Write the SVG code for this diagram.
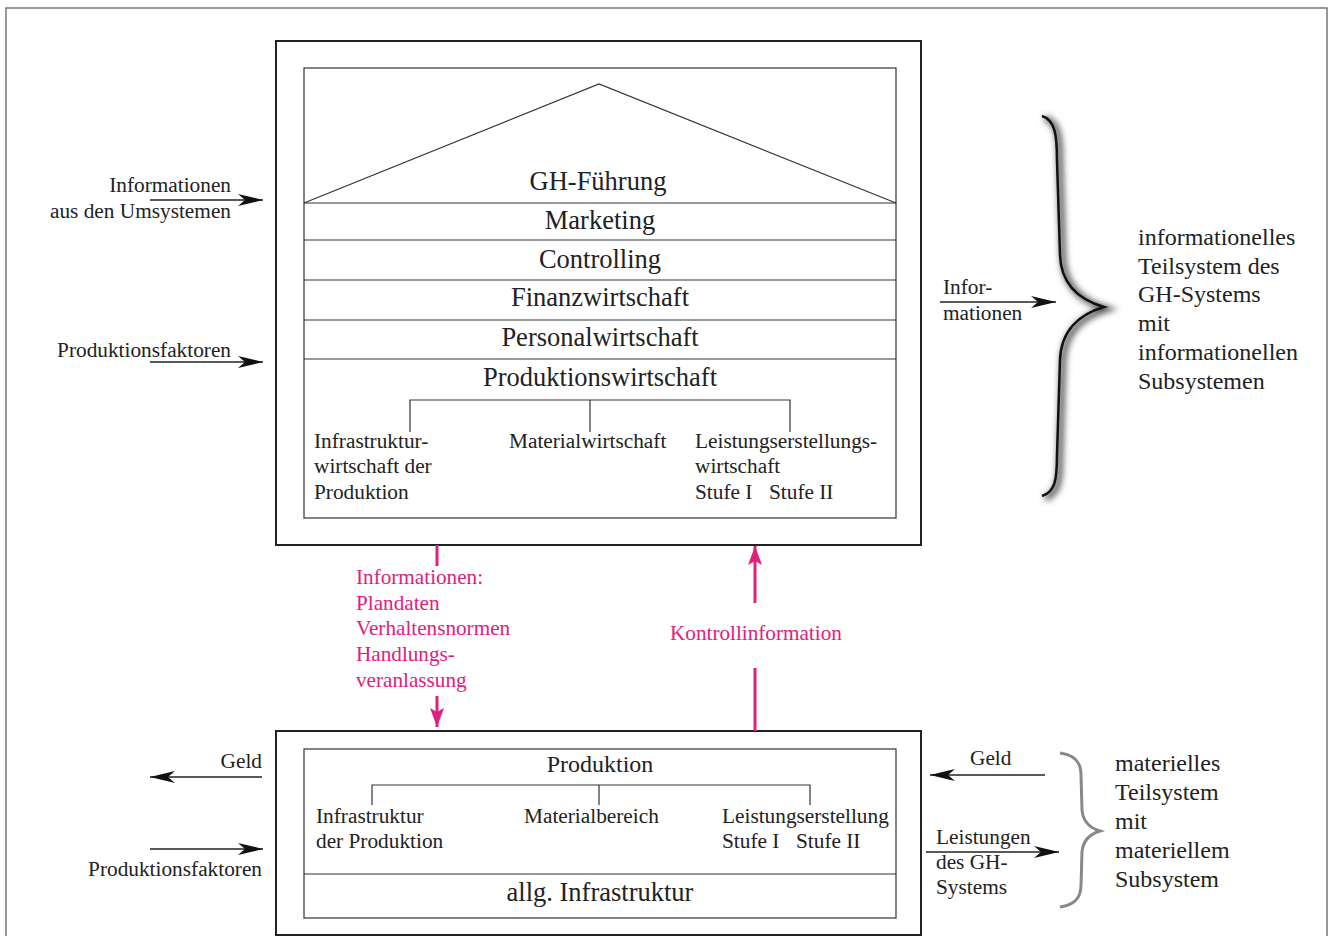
<svg xmlns="http://www.w3.org/2000/svg" width="1333" height="936" viewBox="0 0 1333 936">
<defs>
<style>
text{font-family:"Liberation Serif","Times New Roman",serif;fill:#222}
.big{font-size:26.5px}
.mid{font-size:24px}
.sm{font-size:21.3px}
.rt{font-size:24px}
.pk{fill:#e0207e;font-size:21.2px}
.c{text-anchor:middle}
.e{text-anchor:end}
.ln{stroke:#333;stroke-width:1.2;fill:none}
.box{stroke:#222;stroke-width:2;fill:none}
.arr{stroke:#222;stroke-width:1.3;fill:none;marker-end:url(#ah)}
.parr{stroke:#e0207e;stroke-width:3;fill:none}
</style>
<marker id="ah" markerUnits="userSpaceOnUse" markerWidth="26" markerHeight="14" refX="25" refY="7" orient="auto">
<path d="M0,1 L25,7 L0,13 L7,7 z" fill="#111"/>
</marker>
<marker id="ph" markerUnits="userSpaceOnUse" markerWidth="20" markerHeight="14" refX="19" refY="7" orient="auto">
<path d="M0,0 L19,7 L0,14 L4,7 z" fill="#e0207e"/>
</marker>
<filter id="sh" x="-50%" y="-10%" width="200%" height="120%">
<feGaussianBlur stdDeviation="3"/>
</filter>
</defs>
<rect width="1333" height="936" fill="#fff"/>
<rect x="6" y="8" width="1321" height="940" fill="none" stroke="#777" stroke-width="1.5"/>

<g id="top-system">
<rect class="box" x="276" y="41" width="645" height="504"/>
<rect class="ln" x="304" y="68" width="592" height="450"/>
<path class="ln" d="M304,203 L599,84 L896,203"/>
<line class="ln" x1="304" y1="203" x2="896" y2="203"/>
<line class="ln" x1="304" y1="240" x2="896" y2="240"/>
<line class="ln" x1="304" y1="280" x2="896" y2="280"/>
<line class="ln" x1="304" y1="320" x2="896" y2="320"/>
<line class="ln" x1="304" y1="359" x2="896" y2="359"/>
<text class="big c" x="598" y="190">GH-Führung</text>
<text class="big c" x="600" y="229">Marketing</text>
<text class="big c" x="600" y="268">Controlling</text>
<text class="big c" x="600" y="306">Finanzwirtschaft</text>
<text class="big c" x="600" y="346">Personalwirtschaft</text>
<text class="big c" x="600" y="386">Produktionswirtschaft</text>
<path class="ln" d="M410,432 L410,400 L790,400 L790,432 M590,400 L590,432"/>
<text class="sm" x="314" y="448">Infrastruktur-</text>
<text class="sm" x="314" y="473">wirtschaft der</text>
<text class="sm" x="314" y="499">Produktion</text>
<text class="sm" x="509" y="448">Materialwirtschaft</text>
<text class="sm" x="695" y="448">Leistungserstellungs-</text>
<text class="sm" x="695" y="473">wirtschaft</text>
<text class="sm" x="695" y="499">Stufe I</text>
<text class="sm" x="769" y="499">Stufe II</text>
</g>

<g id="bottom-system">
<rect class="box" x="276" y="731" width="645" height="204"/>
<rect class="ln" x="304" y="749" width="592" height="169"/>
<line class="ln" x1="304" y1="874" x2="896" y2="874"/>
<text class="mid c" x="600" y="772">Produktion</text>
<path class="ln" d="M372,805 L372,785 L810,785 L810,805 M599,785 L599,805"/>
<text class="sm" x="316" y="823">Infrastruktur</text>
<text class="sm" x="316" y="848">der Produktion</text>
<text class="sm" x="524" y="823">Materialbereich</text>
<text class="sm" x="722" y="823">Leistungserstellung</text>
<text class="sm" x="722" y="848">Stufe I</text>
<text class="sm" x="796" y="848">Stufe II</text>
<text class="big c" x="600" y="901">allg. Infrastruktur</text>
</g>

<g id="info-brace">
<path d="M1042,116 C1055,120 1057,135 1057,160 L1060,255 C1061,285 1080,300 1104,307 C1080,314 1061,330 1060,360 L1057,455 C1057,480 1055,492 1042,496" fill="none" stroke="#555" stroke-width="6" filter="url(#sh)" transform="translate(3,2)"/>
<path d="M1042,116 C1055,120 1057,135 1057,160 L1060,255 C1061,285 1080,300 1104,307 C1080,314 1061,330 1060,360 L1057,455 C1057,480 1055,492 1042,496" fill="none" stroke="#111" stroke-width="2.5"/>
<text class="rt" x="1138" y="245">informationelles</text>
<text class="rt" x="1138" y="274">Teilsystem des</text>
<text class="rt" x="1138" y="302">GH-Systems</text>
<text class="rt" x="1138" y="331">mit</text>
<text class="rt" x="1138" y="360">informationellen</text>
<text class="rt" x="1138" y="389">Subsystemen</text>
</g>

<g id="mat-brace">
<path d="M1060,753 C1075,755 1081,762 1081,775 L1082,810 C1083,822 1090,828 1100,831 C1090,834 1083,840 1082,852 L1081,885 C1081,898 1075,905 1060,907" fill="none" stroke="#888" stroke-width="3"/>
<text class="rt" x="1115" y="771">materielles</text>
<text class="rt" x="1115" y="800">Teilsystem</text>
<text class="rt" x="1115" y="829">mit</text>
<text class="rt" x="1115" y="858">materiellem</text>
<text class="rt" x="1115" y="887">Subsystem</text>
</g>

<g id="labels">
<text class="sm e" x="231" y="192">Informationen</text>
<text class="sm e" x="231" y="218">aus den Umsystemen</text>
<text class="sm e" x="231" y="357">Produktionsfaktoren</text>
<text class="sm" x="943" y="294">Infor-</text>
<text class="sm" x="943" y="320">mationen</text>
<text class="sm e" x="262" y="768">Geld</text>
<text class="sm e" x="262" y="876">Produktionsfaktoren</text>
<text class="sm" x="970" y="765">Geld</text>
<text class="sm" x="936" y="844">Leistungen</text>
<text class="sm" x="936" y="869">des GH-</text>
<text class="sm" x="936" y="894">Systems</text>
<text class="pk" x="356" y="584">Informationen:</text>
<text class="pk" x="356" y="610">Plandaten</text>
<text class="pk" x="356" y="635">Verhaltensnormen</text>
<text class="pk" x="356" y="661">Handlungs-</text>
<text class="pk" x="356" y="687">veranlassung</text>
<text class="pk" x="670" y="640">Kontrollinformation</text>
</g>

<g id="connectors">
<line class="arr" x1="150" y1="200" x2="263" y2="200"/>
<line class="arr" x1="150" y1="362" x2="263" y2="362"/>
<line class="arr" x1="940" y1="302" x2="1056" y2="302"/>
<line class="arr" x1="262" y1="777" x2="150" y2="777"/>
<line class="arr" x1="150" y1="849" x2="263" y2="849"/>
<line class="arr" x1="1045" y1="775" x2="930" y2="775"/>
<line class="arr" x1="926" y1="852" x2="1059" y2="852"/>
<line class="parr" x1="437" y1="545" x2="437" y2="566"/>
<line class="parr" x1="437" y1="696" x2="437" y2="727" marker-end="url(#ph)"/>
<line class="parr" x1="755" y1="603" x2="755" y2="546" marker-end="url(#ph)"/>
<line class="parr" x1="755" y1="668" x2="755" y2="731"/>
</g>
</svg>
